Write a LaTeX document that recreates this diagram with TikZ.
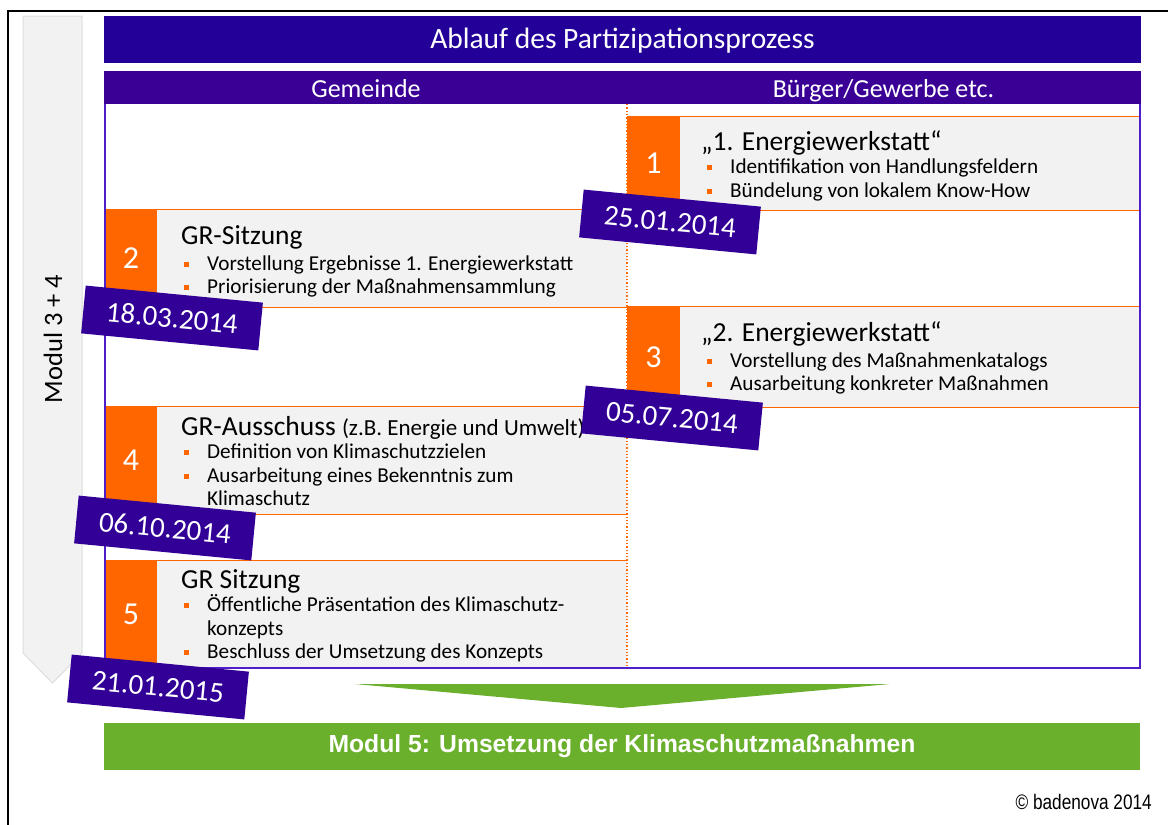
\documentclass[tikz,border=0pt]{standalone}
\usepackage{fontspec}
\setmainfont{Carlito}
\newfontfamily\arialfont{Liberation Sans}
\newfontfamily\narrowfont{Liberation Sans}[FakeStretch=0.82]
\definecolor{titlepurple}{RGB}{35,0,152}
\definecolor{subpurple}{RGB}{58,0,150}
\definecolor{tagpurple}{RGB}{50,0,150}
\definecolor{framepurple}{RGB}{80,30,200}
\definecolor{orangeC}{RGB}{255,102,0}
\definecolor{boxgray}{RGB}{242,242,242}
\definecolor{greenC}{RGB}{106,176,44}
\definecolor{arrowgray}{RGB}{242,242,242}
\definecolor{arrowedge}{RGB}{222,222,222}
\newcommand{\fsz}[1]{\fontsize{#1}{#1}\selectfont}
\begin{document}
\begin{tikzpicture}[x=1pt,y=-1pt,
  numcell/.style={fill=orangeC,draw=none,inner sep=0,text=white,font=\fsz{32}},
  bodycell/.style={fill=boxgray,draw=none,inner sep=0},
  oline/.style={draw=orangeC,line width=1.3pt},
  btitle/.style={anchor=base west,inner sep=0,font=\fsz{27.5}},
  bline/.style={anchor=base west,inner sep=0,font=\fsz{21.2}},
  bul/.style={fill=orangeC,draw=none,minimum size=5pt,inner sep=0},
  datetag/.style={fill=tagpurple,text=white,rotate=-5.5,minimum width=178pt,minimum height=48pt,inner sep=0,font=\fsz{29}},
  hbar/.style={draw=none,inner sep=0,text=white}]
\useasboundingbox (0,0) rectangle (1168,825);
% outer black border (top and left)
\draw[line width=2pt] (8,825) -- (8,11) -- (1168,11);
% left grey arrow
\draw[fill=arrowgray,draw=arrowedge,line width=1pt] (23,16) -- (82,16) -- (82,653) -- (52.5,683) -- (23,653) -- cycle;
\node[rotate=90,font=\fsz{26.5},inner sep=0] (modul34) at (53,339) {Modul 3 + 4};
% header bars
\node[hbar,fill=titlepurple,minimum width=1037pt,minimum height=47pt] (title) at (622.5,39) {};
\node[text=white,font=\fsz{29.5},inner sep=0,anchor=base] (titletext) at (622.5,48) {Ablauf des Partizipationsprozess};
\node[hbar,fill=subpurple,minimum width=1037pt,minimum height=33pt] (sub) at (622.5,87.5) {};
\node[text=white,font=\fsz{26},inner sep=0,anchor=base] (gem) at (366,97) {Gemeinde};
\node[text=white,font=\fsz{26},inner sep=0,anchor=base] (bue) at (883.5,97) {Bürger/Gewerbe etc.};
% main frame background
\fill[white] (105,104) rectangle (1140,668);
% ---- Box 1
\node[numcell,minimum width=53pt,minimum height=93pt] (n1) at (653.5,163.5) {1};
\node[bodycell,minimum width=460pt,minimum height=93pt] (c1) at (910,163.5) {};
\draw[oline] (n1.north west) -- (c1.north east);
\draw[oline] (n1.south west) -- (c1.south east);
\node[btitle] (t1) at (701,150) {„1. Energiewerkstatt“};
\node[bul] (s1a) at (709.5,167) {};
\node[bline] (l1a) at (730,173) {Identifikation von Handlungsfeldern};
\node[bul] (s1b) at (709.5,191) {};
\node[bline] (l1b) at (730,197) {Bündelung von lokalem Know-How};
% ---- Box 2
\node[numcell,minimum width=52pt,minimum height=97pt] (n2) at (131,258.5) {2};
\node[bodycell,minimum width=470pt,minimum height=97pt] (c2) at (392,258.5) {};
\draw[oline] (n2.north west) -- (c2.north east);
\draw[oline] (n2.south west) -- (c2.south east);
\node[btitle] (t2) at (181,244) {GR-Sitzung};
\node[bul] (s2a) at (186.5,264) {};
\node[bline] (l2a) at (207,270) {Vorstellung Ergebnisse 1. Energiewerkstatt};
\node[bul] (s2b) at (186.5,287) {};
\node[bline] (l2b) at (207,293) {Priorisierung der Maßnahmensammlung};
% ---- Box 3
\node[numcell,minimum width=53pt,minimum height=100pt] (n3) at (653.5,357) {3};
\node[bodycell,minimum width=460pt,minimum height=100pt] (c3) at (910,357) {};
\draw[oline] (n3.north west) -- (c3.north east);
\draw[oline] (n3.south west) -- (c3.south east);
\node[btitle] (t3) at (701,341) {„2. Energiewerkstatt“};
\node[bul] (s3a) at (709.5,361) {};
\node[bline] (l3a) at (730,367) {Vorstellung des Maßnahmenkatalogs};
\node[bul] (s3b) at (709.5,384) {};
\node[bline] (l3b) at (730,390) {Ausarbeitung konkreter Maßnahmen};
% ---- Box 4
\node[numcell,minimum width=52pt,minimum height=107pt] (n4) at (131,460.5) {4};
\node[bodycell,minimum width=470pt,minimum height=107pt] (c4) at (392,460.5) {};
\draw[oline] (n4.north west) -- (c4.north east);
\draw[oline] (n4.south west) -- (c4.south east);
\node[btitle] (t4) at (181,435) {GR-Ausschuss {\fsz{23}(z.B. Energie und Umwelt)}};
\node[bul] (s4a) at (186.5,452) {};
\node[bline] (l4a) at (207,458) {Definition von Klimaschutzzielen};
\node[bul] (s4b) at (186.5,476) {};
\node[bline] (l4b) at (207,482) {Ausarbeitung eines Bekenntnis zum};
\node[bline] (l4c) at (207,505) {Klimaschutz};
% ---- Box 5
\node[numcell,minimum width=52pt,minimum height=107pt] (n5) at (131,614.5) {5};
\node[bodycell,minimum width=470pt,minimum height=107pt] (c5) at (392,614.5) {};
\draw[oline] (n5.north west) -- (c5.north east);
\node[btitle] (t5) at (181,588) {GR Sitzung};
\node[bul] (s5a) at (186.5,605) {};
\node[bline] (l5a) at (207,611) {Öffentliche Präsentation des Klimaschutz-};
\node[bline] (l5b) at (207,635) {konzepts};
\node[bul] (s5b) at (186.5,652) {};
\node[bline] (l5c) at (207,658) {Beschluss der Umsetzung des Konzepts};
% column divider
\draw[orangeC,line width=1.3pt,dotted] (627,104) -- (627,668);
% frame
\draw[framepurple,line width=2pt] (105,104) -- (105,668) -- (1140,668) -- (1140,104);
% date tags
\node[datetag] (d1) at (670,222) {25.01.2014};
\node[datetag] (d2) at (172,318) {18.03.2014};
\node[datetag] (d3) at (672,418) {05.07.2014};
\node[datetag] (d4) at (165,528) {06.10.2014};
\node[datetag] (d5) at (158,687) {21.01.2015};
% green arrow and bar
\fill[greenC] (355,684) -- (890,684) -- (621,708) -- cycle;
\node[fill=greenC,draw=none,minimum width=1036pt,minimum height=47pt,inner sep=0,text=white,font=\arialfont\bfseries\fsz{24.7}] (m5) at (622,746.5) {Modul 5: Umsetzung der Klimaschutzmaßnahmen};
% copyright
\node[anchor=base east,inner sep=0,font=\narrowfont\fsz{21}] (copy) at (1152,809) {© badenova 2014};
\end{tikzpicture}
\end{document}
